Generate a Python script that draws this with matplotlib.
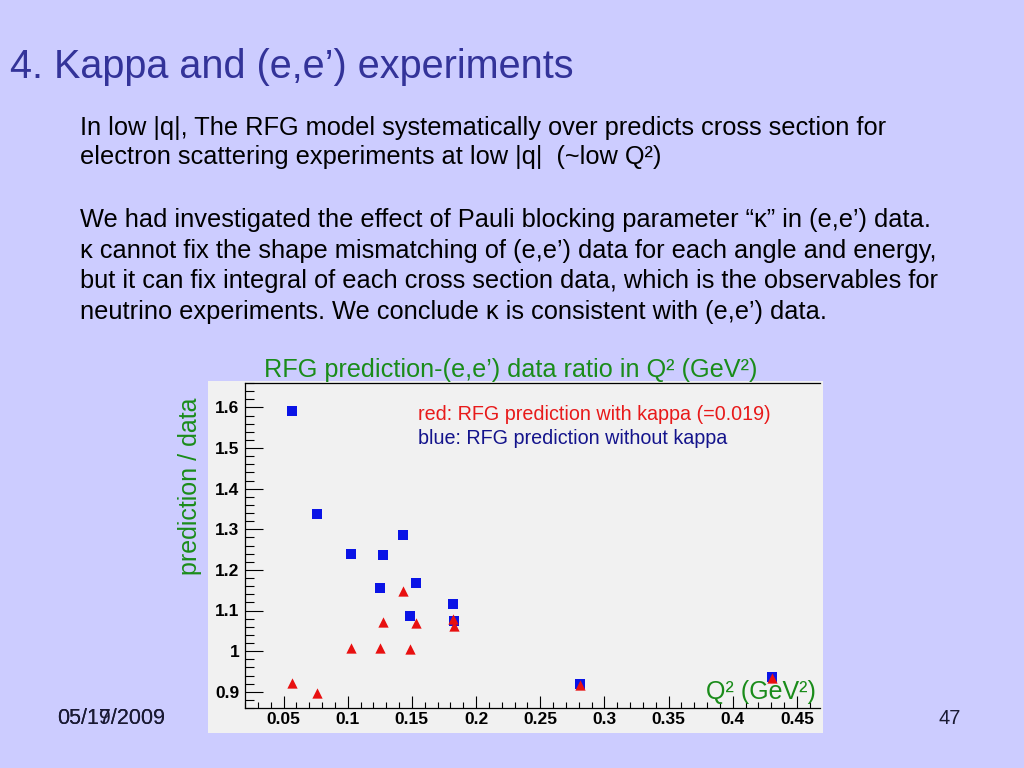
import matplotlib
matplotlib.use("Agg")
import matplotlib.pyplot as plt
from matplotlib.patches import Rectangle
from matplotlib.ticker import MultipleLocator

# Q^2 (GeV^2) of each (e,e') data set
q2 = [0.057, 0.0764, 0.1023, 0.1254, 0.1272, 0.1428, 0.1487, 0.1531, 0.1819, 0.1827, 0.2809, 0.4306]
# prediction / data ratio without kappa (blue squares)
ratio_no_kappa = [1.591, 1.337, 1.239, 1.156, 1.236, 1.286, 1.087, 1.168, 1.115, 1.075, 0.919, 0.937]
# prediction / data ratio with kappa = 0.019 (red triangles)
ratio_kappa = [0.921, 0.898, 1.007, 1.007, 1.072, 1.149, 1.006, 1.070, 1.079, 1.063, 0.917, 0.935]

body_lines = [
    "In low |q|, The RFG model systematically over predicts cross section for",
    "electron scattering experiments at low |q|  (~low Q\u00b2)",
    "We had investigated the effect of Pauli blocking parameter \u201c\u03ba\u201d in (e,e\u2019) data.",
    "\u03ba cannot fix the shape mismatching of (e,e\u2019) data for each angle and energy,",
    "but it can fix integral of each cross section data, which is the observables for",
    "neutrino experiments. We conclude \u03ba is consistent with (e,e\u2019) data.",
]
body_y = [128, 157, 220, 251, 281, 312]

plt.rcParams['font.family'] = ['Liberation Sans', 'DejaVu Sans']

W, H = 1024, 768
fig = plt.figure(figsize=(W / 100, H / 100), dpi=100)
fig.patch.set_facecolor('#ccccff')

def fx(x):
    return x / W

def fy(y):
    return 1 - y / H

# slide title and text
fig.text(fx(10), fy(67), "4. Kappa and (e,e\u2019) experiments", fontsize=28.5,
         color='#333399', va='center', ha='left')
for line, y in zip(body_lines, body_y):
    fig.text(fx(80), fy(y), line, fontsize=18.3, color='black', va='center', ha='left')

# grey background of the embedded ROOT picture
fig.patches.append(Rectangle((fx(208), fy(733)), fx(823) - fx(208), fy(381) - fy(733),
                             transform=fig.transFigure, facecolor='#f1f1f1',
                             edgecolor='none', zorder=-1))

ax = fig.add_axes([fx(245), fy(708), fx(820) - fx(245), fy(383) - fy(708)])
ax.set_facecolor('#f1f1f1')
ax.scatter(q2, ratio_no_kappa, marker='s', s=55, color='#0a14e6', zorder=3, linewidths=0)
ax.scatter(q2, ratio_kappa, marker='^', s=55, color='#e81010', zorder=4, linewidths=0)

ax.set_xlim(0.02, 0.468)
ax.set_ylim(0.86, 1.66)
ax.xaxis.set_major_locator(MultipleLocator(0.05))
ax.xaxis.set_minor_locator(MultipleLocator(0.01))
ax.yaxis.set_major_locator(MultipleLocator(0.1))
ax.yaxis.set_minor_locator(MultipleLocator(0.02))
ax.xaxis.set_major_formatter(plt.FuncFormatter(lambda v, p: f"{v:g}"))
ax.yaxis.set_major_formatter(plt.FuncFormatter(lambda v, p: f"{v:g}"))
ax.tick_params(axis='x', which='major', direction='in', length=9, width=0.8, pad=3)
ax.tick_params(axis='x', which='minor', direction='in', length=4, width=0.8)
ax.tick_params(axis='y', which='major', direction='in', length=13, width=0.8, pad=4)
ax.tick_params(axis='y', which='minor', direction='in', length=6.5, width=0.8)
ax.tick_params(top=False, right=False, which='both')
for lab in ax.get_xticklabels() + ax.get_yticklabels():
    lab.set_fontweight('bold')
    lab.set_fontsize(12.5)
ax.spines['right'].set_visible(False)
for s in ['left', 'bottom', 'top']:
    ax.spines[s].set_linewidth(0.9)

# legend text and axis titles
fig.text(fx(418), fy(415), "red: RFG prediction with kappa (=0.019)", fontsize=14.2,
         color='#e81a1a', va='center', ha='left')
fig.text(fx(418), fy(438), "blue: RFG prediction without kappa", fontsize=14.2,
         color='#14148c', va='center', ha='left')
fig.text(fx(511), fy(370), "RFG prediction-(e,e\u2019) data ratio in Q\u00b2 (GeV\u00b2)", fontsize=18.2,
         color='#1a8c1a', va='center', ha='center')
fig.text(fx(190), fy(486), "prediction / data", fontsize=18, rotation=90,
         color='#1a8c1a', va='center', ha='center')
fig.text(fx(816), fy(692), "Q\u00b2 (GeV\u00b2)", fontsize=18,
         color='#1a8c1a', va='center', ha='right')

# footer
fig.text(fx(57), fy(718), "05/19/2009", fontsize=15.5, color='#1a1a33', va='center', ha='left')
fig.text(fx(57), fy(718), "05/17/2009", fontsize=15.5, color='#1a1a33', va='center', ha='left')
fig.text(fx(961), fy(718), "47", fontsize=14.5, color='#1a1a33', va='center', ha='right')

fig.savefig('out.png', dpi=100, facecolor=fig.get_facecolor())
